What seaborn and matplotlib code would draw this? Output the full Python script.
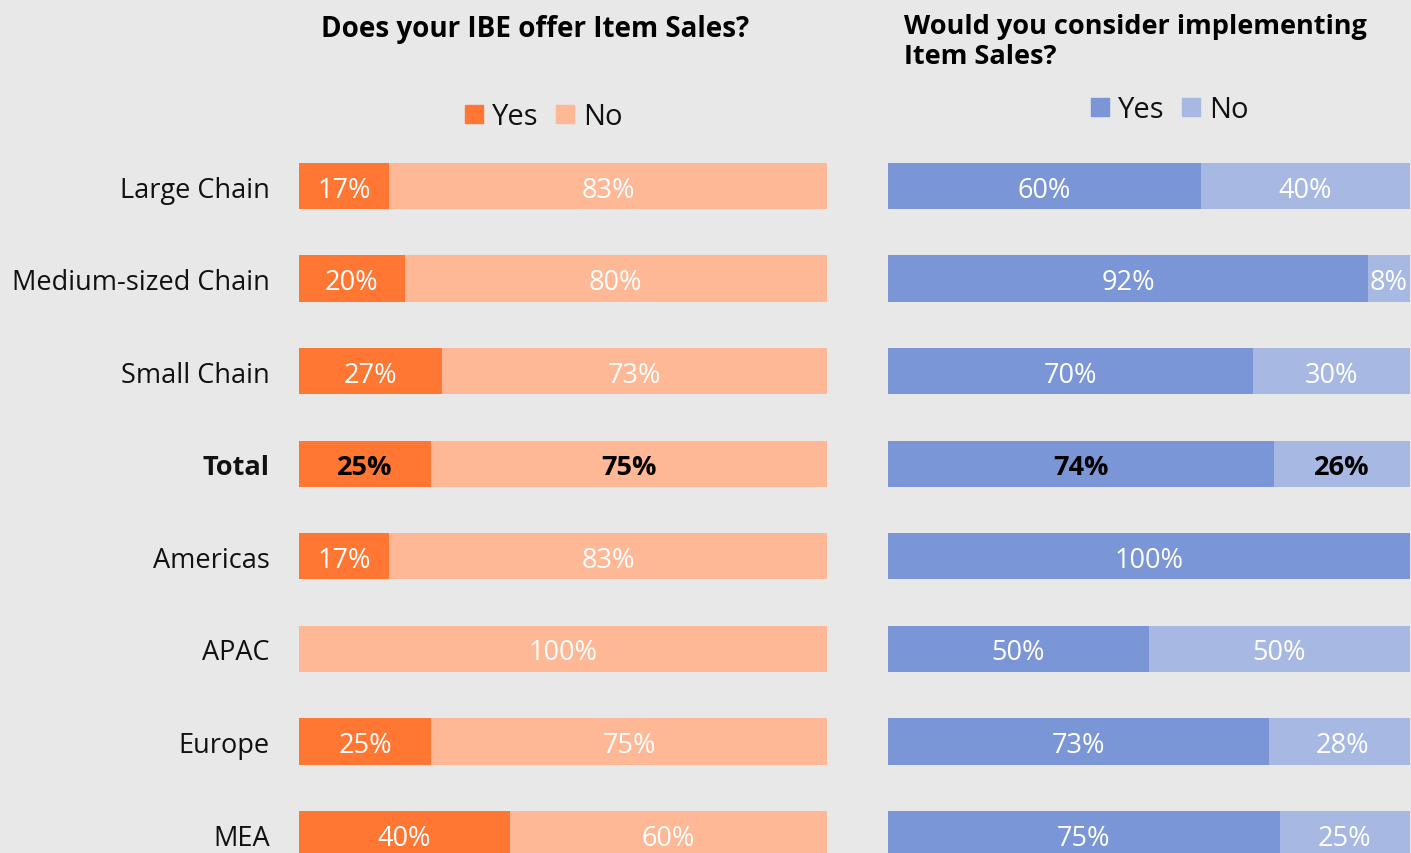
import matplotlib
matplotlib.use("Agg")
import matplotlib.pyplot as plt
import seaborn as sns
import pandas as pd
from matplotlib.patches import Patch

# Survey segments and shares (percent)
segments = ["Large Chain", "Medium-sized Chain", "Small Chain", "Total",
            "Americas", "APAC", "Europe", "MEA"]
offer_yes = [17, 20, 27, 25, 17, 0, 25, 40]
offer_no = [83, 80, 73, 75, 83, 100, 75, 60]
consider_yes = [60, 92, 70, 74, 100, 50, 73, 75]
consider_no = [40, 8, 30, 26, 0, 50, 28, 25]

sns.set_theme(style="white")
plt.rcParams["font.family"] = ["Open Sans", "DejaVu Sans"]

BG = "#e8e8e8"
ORANGE, ORANGE_LIGHT = "#ff7733", "#ffb896"
BLUE, BLUE_LIGHT = "#7b96d6", "#a7b8e3"
W, H = 1411, 854
FS = 19.5

fig = plt.figure(figsize=(W / 100, H / 100), dpi=100, facecolor=BG)
ax_l = fig.add_axes([299 / W, 0, 528 / W, 1])
ax_r = fig.add_axes([888 / W, 0, 522 / W, 1])


def stacked(ax, yes, no, c_yes, c_no):
    """Draw Yes/No stacked horizontal bars with centred percentage labels."""
    df = pd.DataFrame({"segment": segments, "yes": yes,
                       "end": [a + b for a, b in zip(yes, no)]})
    sns.barplot(data=df, x="end", y="segment", orient="h", color=c_no,
                saturation=1, width=0.5, linewidth=0, ax=ax)
    sns.barplot(data=df, x="yes", y="segment", orient="h", color=c_yes,
                saturation=1, width=0.5, linewidth=0, ax=ax)
    for i, (a, b) in enumerate(zip(yes, no)):
        bold = segments[i] == "Total"
        kw = dict(ha="center", va="center_baseline", fontsize=FS,
                  color="black" if bold else "white",
                  fontweight="bold" if bold else "normal")
        if a > 0:
            ax.text(a / 2, i, f"{a}%", **kw)
        if b > 0:
            ax.text(a + b / 2, i, f"{b}%", clip_on=False, **kw)
    ax.set_facecolor(BG)
    ax.set_xlim(0, 100)
    ax.set_ylim(7.205, -2.02)
    ax.set_xticks([])
    ax.set_xlabel("")
    ax.set_ylabel("")
    for s in ax.spines.values():
        s.set_visible(False)


stacked(ax_l, offer_yes, offer_no, ORANGE, ORANGE_LIGHT)
stacked(ax_r, consider_yes, consider_no, BLUE, BLUE_LIGHT)

ax_l.set_yticks(range(len(segments)))
ax_l.set_yticklabels(segments, fontsize=FS, color="#111111")
ax_l.tick_params(axis="y", length=0, pad=21)
ax_l.get_yticklabels()[3].set_fontweight("bold")
ax_r.set_yticks([])

fig.text(535 / W, 1 - 30 / H, "Does your IBE offer Item Sales?",
         ha="center", va="center", fontsize=20, fontweight="bold", color="black")
fig.text(904 / W, 1 - 42 / H, "Would you consider implementing\nItem Sales?",
         ha="left", va="center", fontsize=19.5, fontweight="bold", color="black",
         linespacing=1.18)

leg_kw = dict(loc="center", ncol=2, frameon=False, fontsize=21,
              handlelength=0.6, handleheight=0.6, handletextpad=0.32,
              columnspacing=0.6, borderpad=0, borderaxespad=0,
              labelcolor="#111111")
fig.legend(handles=[Patch(color=ORANGE, label="Yes"), Patch(color=ORANGE_LIGHT, label="No")],
           bbox_to_anchor=(544 / W, 1 - 118 / H), **leg_kw)
fig.legend(handles=[Patch(color=BLUE, label="Yes"), Patch(color=BLUE_LIGHT, label="No")],
           bbox_to_anchor=(1170 / W, 1 - 111 / H), **leg_kw)

fig.savefig("out.png", dpi=100, facecolor=BG)
